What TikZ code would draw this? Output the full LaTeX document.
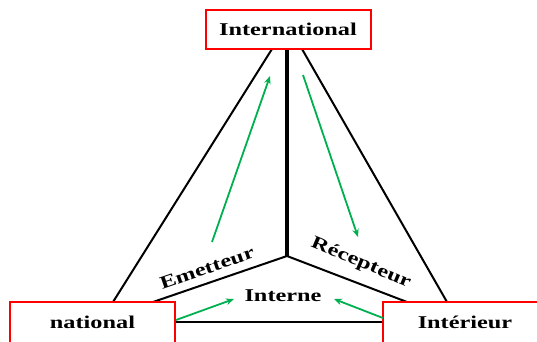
\documentclass[tikz,border=0pt]{standalone}
\usepackage{fontspec}
\setmainfont{Liberation Serif}
\usepackage{graphicx}
\usetikzlibrary{calc,arrows.meta}
\definecolor{arrgreen}{RGB}{0,176,80}
\newcommand{\stretchtxt}[1]{\scalebox{1.35}[1]{#1}}
\begin{document}
\begin{tikzpicture}[x=1pt,y=-1pt,
  box/.style={draw=red, line width=2pt, fill=white, minimum width=165pt, minimum height=39pt, inner sep=0pt, font=\bfseries\fontsize{18}{20}\selectfont},
  ln/.style={line width=2pt},
  garr/.style={draw=arrgreen, line width=1.8pt, -{Stealth[length=8pt,width=6.5pt]}},
  lab/.style={font=\bfseries\fontsize{18}{20}\selectfont, inner sep=0pt}]
\useasboundingbox (0,0) rectangle (537,341);
\clip (0,0) rectangle (537,341);
% lines
\coordinate (J) at (287,256);
\coordinate (tl) at (272,49);
\coordinate (tm) at (287,49);
\coordinate (tr) at (302,49);
\coordinate (nl) at (113,302);
\coordinate (nr) at (153,302);
\coordinate (il) at (407,302);
\coordinate (ir) at (447,302);
\coordinate (hb1) at (175,322);
\coordinate (hb2) at (383,322);
\draw[ln] (tl) -- (nl);
\draw[ln] (tr) -- (ir);
\draw[line width=3.6pt] (tm) -- (J);
\draw[ln, line join=miter] (nr) -- (J) -- (il);
\draw[ln] (hb1) -- (hb2);
% boxes
\node[box] (intl) at (288,29.5) {\stretchtxt{International}};
\node[box, minimum height=41pt] (nat) at (92.5,322.5) {\stretchtxt{national}};
\node[box, minimum height=41pt] (int) at (465,322.5) {\stretchtxt{Intérieur}};
% green arrows
\coordinate (a1s) at (212,242);
\coordinate (a1e) at (270,76);
\coordinate (a2s) at (303,75);
\coordinate (a2e) at (358,237);
\coordinate (a3s) at (176,320);
\coordinate (a3e) at (234,299);
\coordinate (a4s) at (383,318);
\coordinate (a4e) at (334,299);
\draw[garr] (a1s) -- (a1e);
\draw[garr] (a2s) -- (a2e);
\draw[garr] (a3s) -- (a3e);
\draw[garr] (a4s) -- (a4e);
% labels
\node[lab, rotate=19] (em) at (207,268) {\stretchtxt{Emetteur}};
\node[lab, rotate=-23] (rec) at (361,263) {\stretchtxt{Récepteur}};
\node[lab] (inte) at (283,296) {\stretchtxt{Interne}};
\end{tikzpicture}
\end{document}
